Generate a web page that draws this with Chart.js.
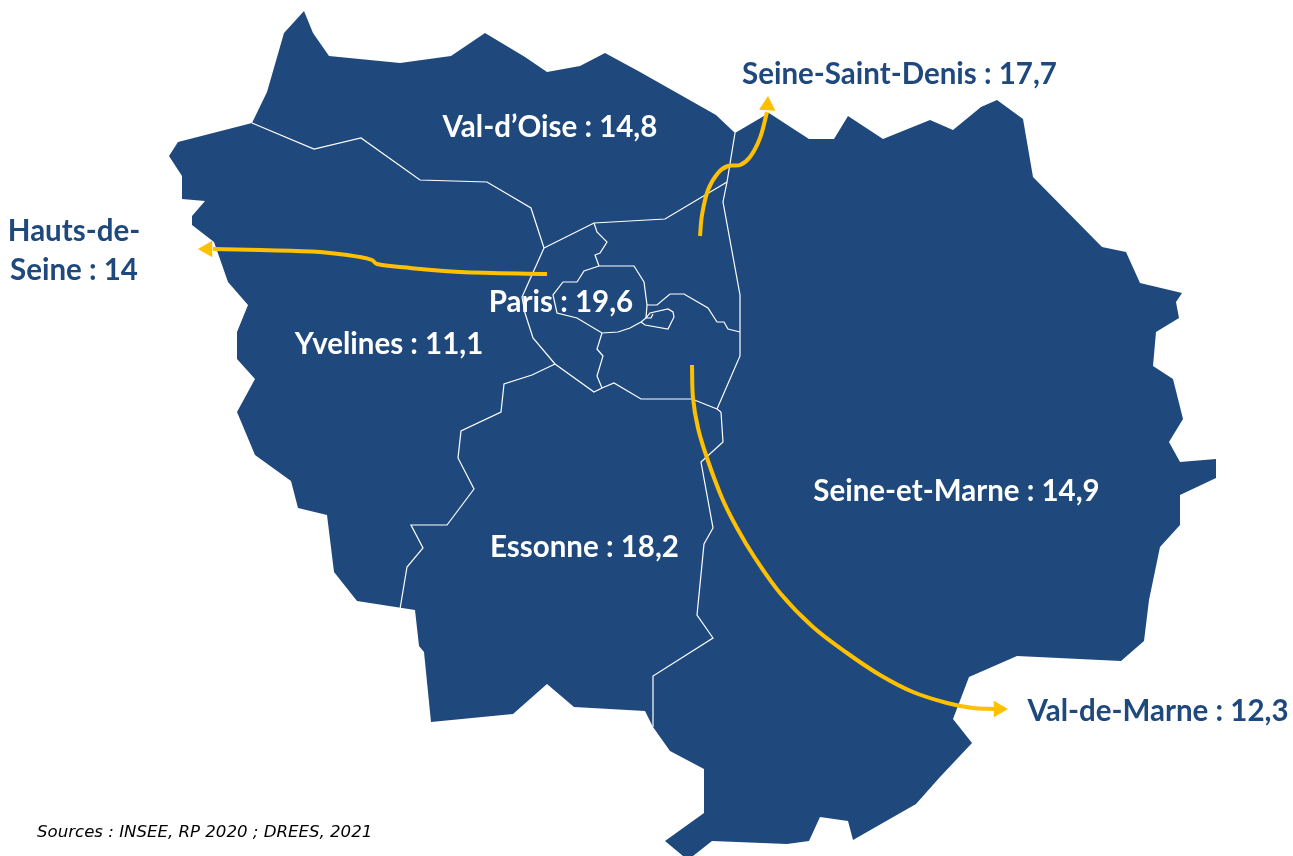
<!DOCTYPE html>
<html lang="fr">
<head>
<meta charset="utf-8">
<title>Île-de-France</title>
<script src="https://cdn.jsdelivr.net/npm/chart.js@4"></script>
<style>
  html, body { margin: 0; padding: 0; background: #fff; }
  canvas { display: block; }
</style>
</head>
<body>
<canvas id="carte" width="1293" height="856"></canvas>
<script>
// valeurs par departement
const departements = ["Val-d’Oise", "Seine-Saint-Denis", "Hauts-de-\nSeine", "Paris", "Yvelines", "Seine-et-Marne", "Essonne", "Val-de-Marne"];
const valeurs = [14.8, 17.7, 14, 19.6, 11.1, 14.9, 18.2, 12.3];
const source = "Sources : INSEE, RP 2020 ; DREES, 2021";

// contours de la carte (repere 1293 x 856)
const contour = [[252,123],[267,92],[284,33],[304,11],[313,33],[329,56],[400,63],[451,56],[485,33],[525,57],[547,72],[580,66],[605,53],[640,72],[716,115],[735,133],[769,113],[792,128],[809,139],[834,139],[848,116],[883,139],[930,120],[953,130],[981,107],[997,100],[1023,119],[1033,177],[1102,247],[1126,252],[1140,283],[1182,293],[1176,302],[1179,318],[1156,332],[1153,366],[1173,379],[1183,419],[1169,442],[1180,462],[1216,459],[1216,478],[1180,495],[1180,525],[1160,547],[1149,600],[1144,641],[1121,661],[1017,656],[969,677],[953,719],[972,743],[940,777],[916,804],[853,840],[848,821],[820,817],[809,841],[787,844],[712,841],[693,856],[683,856],[665,841],[704,813],[704,769],[670,751],[653,727],[645,711],[574,707],[547,684],[513,714],[431,722],[424,652],[419,646],[415,610],[357,601],[334,572],[327,515],[298,508],[291,481],[255,455],[237,412],[255,379],[237,359],[237,332],[248,305],[228,282],[214,242],[192,225],[192,216],[205,201],[182,199],[182,176],[169,156],[178,142]];

const limites = [
  [[252,123],[314,149],[361,138],[420,180],[487,182],[531,208],[544,248]],
  [[544,248],[594,223],[665,219],[727,182]],
  [[735,133],[727,182],[723,202],[740,295],[740,356],[717,409]],
  [[544,248],[522,297],[525,313],[533,338],[555,364],[594,392],[602,388],[614,383],[641,399],[692,399],[717,409],[721,412]],
  [[555,364],[532,375],[504,384],[501,412],[461,431],[458,458],[474,489],[447,525],[411,525],[423,548],[407,567],[400,609]],
  [[721,412],[723,442],[701,462],[713,528],[704,544],[697,615],[713,638],[653,676],[653,727]],
  [[599,266],[634,266],[644,282],[647,305],[646,318],[641,322],[630,328],[618,332],[602,333],[577,318],[557,313],[553,295],[563,282],[577,282],[584,271],[599,266]],
  [[594,223],[597,232],[607,242],[600,253],[595,255],[599,266]],
  [[602,333],[597,349],[603,356],[597,376],[602,388]],
  [[647,305],[657,305],[670,294],[684,294],[708,308],[717,322],[724,322],[728,329],[740,332]],
  [[641,322],[645,325],[668,329],[674,317],[673,312],[668,309],[650,313],[646,318],[651,318],[653,314]]
];

// fleches
const flecheHauts = [[547,274],[460,272],[410,268],[377,264],[372,260],[360,257],[320,252],[260,250],[213,249]];
const flecheDenis = [[700,236],[702,215],[708,190],[718,173],[728,166],[740,165],[750,157],[760,138],[767,112]];
const flecheMarne = [[692,365],[693,398],[698,428],[707,458],[722,498],[737,528],[755,558],[780,593],[813,627],[847,653],[880,675],[913,692],[947,703],[973,708],[994,709]];

// pointes : x, y, rotation
const pointes = [[207.5,249,270],[767.5,105.5,3],[998.5,709,90]];

// emplacement du texte
const texteX = [550, 899.5, 74, 561, 389, 956.5, 584.5, 1158];
const texteY = [127, 74, 231, 302, 344, 491, 547, 711];
const texteCouleur = ["#fff", "#1F497D", "#1F497D", "#fff", "#fff", "#fff", "#fff", "#1F497D"];

const bleu = "#1F497D";
const jaune = "#FFC000";

function xy(liste) {
  return liste.map(function (p) { return { x: p[0], y: p[1] }; });
}

const textes = {
  id: "textes",
  afterDatasetsDraw: function (chart) {
    const c = chart.ctx;
    const sx = chart.scales.x;
    const sy = chart.scales.y;
    c.save();
    c.textBaseline = "middle";
    c.textAlign = "center";
    c.font = "bold 29.5px Lato";
    departements.forEach(function (nom, i) {
      const t = nom + " : " + String(valeurs[i]).replace(".", ",");
      c.fillStyle = texteCouleur[i];
      t.split("\n").forEach(function (ligne, j) {
        c.fillText(ligne, sx.getPixelForValue(texteX[i]), sy.getPixelForValue(texteY[i] + j * 39));
      });
    });
    c.textAlign = "left";
    c.font = "italic 16.6px 'DejaVu Sans'";
    c.fillStyle = "#000";
    c.fillText(source, sx.getPixelForValue(37), sy.getPixelForValue(833));
    c.restore();
  },
};

const datasets = [];
datasets.push({
  data: xy(contour),
  showLine: true,
  fill: "shape",
  backgroundColor: bleu,
  borderWidth: 0,
  pointRadius: 0,
  tension: 0,
  order: 3,
});
limites.forEach(function (l) {
  datasets.push({
    data: xy(l),
    showLine: true,
    fill: false,
    borderColor: "#fff",
    borderWidth: 1.2,
    pointRadius: 0,
    tension: 0,
    order: 2,
  });
});
[flecheHauts, flecheDenis, flecheMarne].forEach(function (f) {
  datasets.push({
    data: xy(f),
    showLine: true,
    fill: false,
    borderColor: jaune,
    borderWidth: 4,
    pointRadius: 0,
    tension: 0.35,
    order: 1,
  });
});
datasets.push({
  data: xy(pointes),
  showLine: false,
  pointStyle: "triangle",
  pointRadius: 9.5,
  pointRotation: pointes.map(function (p) { return p[2]; }),
  backgroundColor: jaune,
  borderColor: jaune,
  borderWidth: 0,
  order: 0,
});

new Chart(document.getElementById("carte"), {
  type: "scatter",
  data: { datasets: datasets },
  options: {
    responsive: false,
    animation: false,
    layout: { padding: 0, autoPadding: false },
    plugins: { legend: { display: false }, tooltip: { enabled: false } },
    scales: {
      x: { type: "linear", min: 0, max: 1293, display: false },
      y: { type: "linear", min: 0, max: 856, reverse: true, display: false },
    },
  },
  plugins: [textes],
});
</script>
</body>
</html>
